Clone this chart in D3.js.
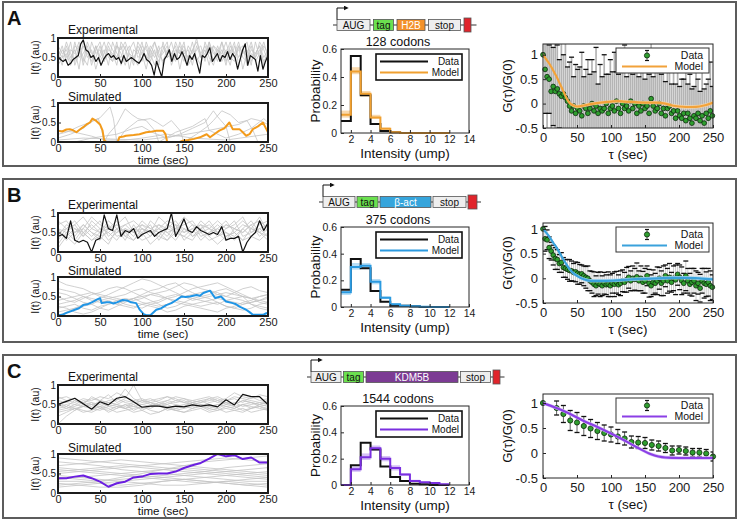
<!DOCTYPE html>
<meta charset="utf-8">
<title>Translation traces, intensity histograms and autocorrelations</title>
<style>
    body { margin: 0; background: #fff; }
    svg { font-family: "Liberation Sans", Arial, Helvetica, sans-serif; }
    .frame { fill: none; stroke: #5c5c5c; stroke-width: 2px; }
    .box { fill: none; stroke: #262626; stroke-width: 1px; }
    .box.thick { stroke: #1c1c1c; stroke-width: 2px; }
    .gray { fill: none; stroke: #c4c4c4; stroke-width: 0.8px; }
</style>
<body>
<svg id="fig" width="740" height="522"></svg>
<script src="https://d3js.org/d3.v7.min.js"></script>
<script>
// ---------- ticks ----------
const timeTicks = [0, 50, 100, 150, 200, 250];
const traceTicksY = [0, 0.5, 1];
const probTicks = [0, 0.2, 0.4, 0.6];
const intensityTicks = [2, 4, 6, 8, 10, 12, 14];
const acfTicksY = [-0.5, 0, 0.5, 1];
const binEdges = [1, 2, 3, 4, 5, 6, 7, 8, 9, 10, 11, 12];

// ---------- panel A (H2B) ----------
const expMainA = [0.5,0.45,0.4,0.45,0.3,0.35,0.45,0.5,0.55,0.85,
    0.95,0.7,0.65,0.5,0.55,0.4,0.5,0.3,0.45,0.55,
    0.6,0.5,0.55,0.45,0.5,0.35,0.55,0.4,0.45,0.5,
    0.45,0.4,0.35,0.45,0.6,0.45,0.4,0.3,0.05,0.4,
    0.2,0.0,0.45,0.55,0.7,0.4,0.6,0.45,0.5,0.65,
    0.5,0.3,0.55,0.45,0.6,0.35,0.1,0.55,0.5,0.6,
    0.75,0.4,0.5,0.6,0.4,0.55,0.5,0.65,0.45,0.6,
    0.5,0.2,0.45,0.7,0.85,0.3,0.55,0.5,0.45,0.15,
    0.55,0.2,0.4,0.55];
const expGrayA = [
    [0.6,0.3,0.8,0.5,0.7,0.2,0.9,0.6,0.4,0.8,0.5,0.7,0.3,0.9,0.6,0.5,0.8,0.2,0.7,0.6,0.9,0.4,0.7,0.5,0.8,0.3,0.6,0.9,0.5,0.7,0.4,0.8,0.6,1.0,0.5,0.7,0.3,0.8,0.6,0.9,0.4,0.7,0.5,0.8,0.2,0.6,0.9,0.5,0.7,0.4,0.6],
    [0.4,0.7,0.5,0.9,0.3,0.6,0.8,0.5,0.7,0.2,0.6,0.9,0.5,0.4,0.8,0.6,0.3,0.7,0.9,0.5,0.6,0.8,0.4,0.7,0.3,0.9,0.5,0.6,0.8,0.2,0.7,0.5,0.9,0.4,0.6,0.8,0.5,0.3,0.7,0.6,0.9,0.5,0.4,0.8,0.6,0.7,0.3,0.9,0.5,0.8,0.6],
    [0.7,0.5,0.6,0.3,0.8,0.7,0.4,0.9,0.6,0.5,0.8,0.4,0.7,0.6,0.3,0.9,0.7,0.5,0.4,0.8,0.6,0.2,0.7,0.9,0.5,0.6,0.8,0.4,0.7,0.6,0.9,0.3,0.5,0.7,0.8,0.4,0.9,0.6,0.5,0.7,0.3,0.8,0.6,0.9,0.5,0.4,0.7,0.6,0.8,0.3,0.7],
    [0.3,0.5,0.9,0.6,0.4,0.8,0.5,0.3,0.9,0.6,0.7,0.4,0.8,0.5,0.9,0.3,0.6,0.8,0.5,0.7,0.4,0.9,0.6,0.3,0.7,0.8,0.5,0.6,0.4,0.9,0.6,0.7,0.3,0.8,0.5,0.6,0.9,0.4,0.8,0.5,0.7,0.6,0.9,0.3,0.7,0.5,0.8,0.4,0.6,0.9,0.5],
    [0.5,0.8,0.4,0.7,0.6,0.9,0.3,0.7,0.5,0.8,0.4,0.6,0.9,0.7,0.5,0.8,0.4,0.6,0.3,0.9,0.7,0.5,0.8,0.6,0.4,0.7,0.9,0.3,0.6,0.8,0.5,0.4,0.7,0.9,0.6,0.5,0.8,0.7,0.4,0.9,0.6,0.3,0.8,0.5,0.7,0.9,0.4,0.6,0.8,0.5,0.7],
    [0.8,0.6,0.7,0.4,0.9,0.5,0.6,0.8,0.3,0.7,0.9,0.5,0.6,0.4,0.8,0.7,0.9,0.6,0.5,0.3,0.8,0.7,0.5,0.9,0.6,0.4,0.7,0.5,0.9,0.6,0.8,0.4,0.7,0.5,0.3,0.9,0.6,0.8,0.7,0.4,0.6,0.9,0.5,0.7,0.8,0.3,0.6,0.5,0.9,0.7,0.4]
];
const simMainA = [[0,0.29],[5,0.27],[10,0.32],[14,0.33],[18,0.3],[22,0.25],[26,0.32],[30,0.38],[34,0.45],[38,0.5],[41,0.6],[45,0.55],[50,0.45],[53,0.3],[55,0.04],[58,0],[71,0],[73,0.12],[78,0.14],[81,0.16],[90,0.18],[97,0.2],[100,0.22],[105,0.25],[110,0.26],[117,0.29],[125,0.29],[128,0.2],[130,0],[145,0],[148,0.03],[155,0.05],[162,0.08],[169,0.12],[175,0.18],[177,0.2],[181,0.12],[186,0.2],[192,0.29],[198,0.35],[204,0.5],[208,0.33],[216,0.33],[220,0.25],[224,0.16],[228,0.2],[232,0.33],[238,0.4],[244,0.5],[248,0.33],[250,0.25]];
const simGrayA = [
    [[0,0.1],[15,0.2],[30,0.35],[42,0.55],[48,0.6],[52,0.3],[55,0]],
    [[0,0.2],[10,0.25],[25,0.4],[38,0.5],[50,0.62],[62,0.9],[66,0.6],[70,0]],
    [[55,0],[60,0.2],[70,0.45],[80,0.85],[88,0.7],[95,0.6],[105,0.55],[115,0.3],[120,0]],
    [[70,0],[80,0.3],[95,0.55],[110,0.6],[118,0.5],[125,0.4],[135,0.55],[145,0.3],[150,0]],
    [[20,0],[40,0.1],[70,0.2],[90,0.35],[100,0.4],[112,0.25],[130,0.1],[145,0.2],[160,0.35],[175,0.5],[185,0.8],[190,0.65],[200,0.4],[205,0]],
    [[150,0],[165,0.2],[178,0.4],[185,0.55],[195,0.8],[205,0.7],[215,0.5],[225,0.55],[232,0.3],[238,0]],
    [[0,0.05],[30,0.1],[100,0.05],[140,0.15],[180,0.3],[215,0.45],[230,0.6],[240,0.55],[250,0.45]],
    [[120,0],[140,0.25],[160,0.4],[175,0.6],[180,0.3],[200,0.1],[215,0.2],[230,0.35],[245,0.6],[250,0.5]],
    [[0,0.3],[20,0.25],[40,0.15],[55,0.05],[80,0.05],[100,0.1],[130,0.2],[160,0.1],[200,0.05],[250,0.2]]
];
const histDataA = [0.085,0.55,0.27,0.065,0.015,0.005,0,0,0,0,0];
const histModelA = [0.13,0.44,0.28,0.11,0.03,0.005,0,0,0,0,0];
const histModelLoA = [0.11,0.42,0.26,0.1,0.025,0.003,0,0,0,0,0];
const histModelHiA = [0.16,0.47,0.3,0.13,0.04,0.008,0,0,0,0,0];
const acfMeanA = [1.0,0.7,0.55,0.5,0.25,0.35,0.25,0.3,0.2,0.15,
    0.2,0.12,0.05,-0.05,-0.15,-0.05,-0.2,-0.1,-0.15,-0.25,
    -0.05,-0.1,-0.2,-0.1,0.0,-0.15,-0.05,-0.2,-0.1,-0.15,
    -0.1,0.0,-0.2,-0.1,-0.05,-0.15,0.05,-0.1,-0.2,0.0,
    -0.1,-0.05,-0.15,0.05,-0.1,0.0,-0.2,-0.05,-0.15,0.0,
    -0.1,-0.05,-0.2,0.1,-0.05,-0.15,-0.1,0.0,-0.2,-0.1,
    -0.25,-0.1,-0.05,-0.2,-0.15,-0.3,-0.15,-0.25,-0.3,-0.2,
    -0.35,-0.2,-0.3,-0.4,-0.25,-0.3,-0.2,-0.35,-0.25,-0.4,
    -0.2,-0.3,-0.15,-0.25];
const acfErrA = [0.0,0.9,1.1,0.7,1.0,0.8,1.3,0.9,0.7,1.1,
    0.8,1.2,0.7,0.9,1.1,0.6,1.0,0.8,0.9,1.3,
    0.6,0.8,1.1,0.7,0.9,0.8,1.2,0.6,0.9,0.7,
    1.1,0.6,0.8,1.0,0.7,1.2,0.6,0.7,1.0,0.8,
    1.3,0.6,0.8,0.9,0.7,0.8,1.1,0.6,1.0,0.7,
    0.6,1.0,0.8,1.2,0.6,0.8,1.0,0.7,0.8,1.1,
    0.7,0.8,1.0,0.6,0.9,0.7,1.1,0.6,0.8,0.7,
    1.0,0.6,0.9,0.7,0.6,1.0,0.7,0.6,0.9,0.7,
    0.6,0.8,1.0,0.6];
const acfModelTauA = [0,5,10,15,20,25,30,35,40,45,50,60,70,85,100,110,120,135,150,165,180,190,200,210,220,230,240,250];
const acfModelA = [1.0,0.9,0.8,0.68,0.55,0.4,0.25,0.1,0.0,-0.04,-0.06,-0.04,-0.01,0.02,0.04,0.05,0.04,0.03,0.02,0.02,0.0,-0.04,-0.06,-0.07,-0.07,-0.06,-0.03,0.02];

// ---------- panel B (beta-actin) ----------
const expMainB = [0.4,0.45,0.35,0.8,0.3,0.25,0.3,0.25,0.0,0.3,0.35,0.95,0.6,0.55,0.95,0.4,0.55,0.5,0.6,0.35,0.45,0.5,0.55,0.4,0.5,0.55,0.6,1.0,0.4,0.6,0.85,0.55,0.5,0.65,0.55,0.5,0.45,0.5,0.45,0.65,0.3,0.35,0.35,0.4,0.0,0.25,0.4,0.5,0.8,0.55,0.75];
const expGrayB = [
    [0.6,0.5,0.7,0.4,0.8,0.6,0.5,0.7,0.9,0.5,0.6,0.4,0.7,0.6,0.8,0.5,0.6,0.7,0.4,0.6,0.8,0.5,0.7,0.6,0.9,0.5],
    [0.3,0.6,0.4,0.7,0.5,0.3,0.6,0.8,0.4,0.6,0.5,0.7,0.3,0.6,0.5,0.8,0.4,0.6,0.7,0.5,0.3,0.6,0.5,0.7,0.4,0.6],
    [0.7,0.8,0.5,0.6,0.9,0.7,0.6,0.5,0.7,0.8,0.6,0.5,0.9,0.7,0.6,0.7,0.8,0.5,0.6,0.8,0.6,0.7,0.9,0.5,0.7,0.8],
    [0.5,0.4,0.6,0.5,0.3,0.5,0.7,0.4,0.5,0.3,0.6,0.5,0.4,0.7,0.5,0.4,0.6,0.3,0.5,0.6,0.4,0.5,0.3,0.6,0.5,0.4],
    [0.2,0.5,0.3,0.6,0.4,0.6,0.3,0.5,0.6,0.4,0.7,0.6,0.5,0.3,0.6,0.5,0.7,0.4,0.5,0.7,0.5,0.4,0.6,0.8,0.5,0.3],
    [0.8,0.6,0.7,0.9,0.6,0.5,0.8,0.6,0.7,0.5,0.8,0.6,0.7,0.5,0.6,0.9,0.7,0.6,0.8,0.5,0.7,0.6,0.5,0.7,0.8,0.6],
    [0.4,0.7,0.6,0.4,0.6,0.8,0.4,0.6,0.3,0.7,0.4,0.8,0.6,0.4,0.7,0.3,0.5,0.8,0.6,0.4,0.6,0.8,0.4,0.5,0.6,0.7],
    [0.6,0.3,0.5,0.7,0.5,0.4,0.5,0.3,0.6,0.5,0.3,0.4,0.6,0.5,0.3,0.6,0.4,0.5,0.3,0.4,0.5,0.3,0.6,0.4,0.3,0.5],
    [0.5,0.6,0.8,0.5,0.7,0.5,0.6,0.7,0.5,0.6,0.7,0.5,0.6,0.8,0.7,0.6,0.5,0.7,0.6,0.5,0.7,0.6,0.8,0.6,0.5,0.7],
    [0.1,0.4,0.2,0.5,0.3,0.4,0.2,0.6,0.4,0.3,0.5,0.2,0.4,0.3,0.5,0.4,0.3,0.6,0.4,0.2,0.4,0.5,0.3,0.4,0.6,0.4]
];
const simMainB = [[0,0.02],[5,0.03],[10,0.08],[15,0.12],[20,0.16],[25,0.2],[30,0.28],[35,0.3],[42,0.37],[46,0.42],[50,0.46],[52,0.33],[58,0.35],[62,0.35],[66,0.32],[70,0.35],[77,0.41],[82,0.4],[87,0.35],[93,0.33],[97,0.17],[102,0.05],[105,0.02],[110,0.02],[117,0.16],[123,0.2],[129,0.28],[135,0.33],[141,0.41],[147,0.5],[152,0.49],[157,0.5],[165,0.54],[169,0.52],[173,0.59],[181,0.65],[187,0.46],[194,0.5],[200,0.37],[208,0.33],[212,0.3],[216,0.24],[220,0.2],[224,0.16],[228,0.1],[232,0.03],[244,0.03],[248,0.07],[250,0.08]];
const simGrayB = [
    [0.9,0.8,0.75,0.7,0.6,0.55,0.5,0.45,0.4,0.35,0.3,0.25,0.2,0.1,0.15,0.25,0.3,0.35,0.4,0.45,0.4,0.35,0.3,0.35,0.4,0.45],
    [0.0,0.1,0.2,0.3,0.35,0.45,0.55,0.65,0.75,0.85,0.95,0.9,0.8,0.7,0.6,0.5,0.4,0.45,0.5,0.55,0.6,0.55,0.5,0.45,0.35,0.3],
    [0.4,0.45,0.5,0.55,0.6,0.5,0.45,0.4,0.3,0.25,0.2,0.3,0.35,0.45,0.5,0.6,0.7,0.75,0.8,0.85,0.75,0.65,0.55,0.45,0.4,0.35],
    [0.2,0.25,0.3,0.2,0.15,0.25,0.3,0.35,0.4,0.45,0.5,0.55,0.5,0.45,0.4,0.35,0.3,0.25,0.3,0.35,0.25,0.2,0.3,0.35,0.4,0.5],
    [0.6,0.55,0.45,0.35,0.3,0.2,0.15,0.25,0.35,0.45,0.55,0.65,0.7,0.8,0.85,0.7,0.6,0.5,0.45,0.35,0.25,0.2,0.15,0.2,0.3,0.35],
    [0.1,0.15,0.2,0.25,0.3,0.4,0.45,0.5,0.55,0.65,0.7,0.6,0.55,0.45,0.35,0.3,0.25,0.2,0.15,0.1,0.2,0.25,0.35,0.4,0.5,0.55],
    [0.3,0.35,0.4,0.5,0.45,0.4,0.35,0.3,0.4,0.45,0.35,0.3,0.25,0.3,0.4,0.5,0.55,0.6,0.65,0.55,0.5,0.6,0.7,0.75,0.65,0.6],
    [0.5,0.4,0.35,0.45,0.55,0.6,0.7,0.75,0.7,0.6,0.5,0.4,0.3,0.2,0.25,0.35,0.45,0.4,0.35,0.3,0.4,0.45,0.5,0.3,0.2,0.15],
    [0.25,0.2,0.1,0.05,0.1,0.2,0.3,0.4,0.45,0.4,0.45,0.55,0.6,0.65,0.75,0.85,0.8,0.7,0.65,0.6,0.5,0.45,0.4,0.3,0.25,0.2],
    [0.7,0.65,0.6,0.5,0.4,0.35,0.4,0.3,0.25,0.2,0.3,0.35,0.4,0.5,0.55,0.5,0.45,0.5,0.55,0.65,0.7,0.6,0.5,0.45,0.5,0.55]
];
const histDataB = [0.13,0.36,0.29,0.12,0.04,0.01,0.01,0.005,0,0,0];
const histModelB = [0.11,0.3,0.31,0.19,0.07,0.02,0.01,0.005,0.002,0,0];
const histModelLoB = [0.09,0.28,0.29,0.17,0.06,0.015,0.005,0.002,0,0,0];
const histModelHiB = [0.12,0.33,0.33,0.21,0.08,0.03,0.015,0.008,0.004,0.002,0];
const acfMeanB = [1.0,0.8,0.78,0.62,0.55,0.47,0.4,0.38,0.3,0.32,
    0.22,0.2,0.18,0.16,0.15,0.12,0.13,0.1,0.08,0.09,
    0.05,0.02,0.0,-0.05,-0.08,-0.12,-0.15,-0.1,-0.12,-0.15,
    -0.1,-0.13,-0.12,-0.15,-0.1,-0.12,-0.08,-0.13,-0.1,-0.05,
    -0.08,-0.03,0.02,-0.05,0.0,-0.02,0.03,-0.05,0.0,-0.08,
    -0.05,0.05,-0.1,-0.15,-0.08,-0.1,-0.05,0.0,-0.1,-0.05,
    0.05,-0.05,0.02,-0.08,0.0,-0.03,0.08,0.02,-0.05,-0.1,
    0.05,-0.05,-0.12,-0.08,-0.05,-0.15,-0.1,-0.2,-0.05,-0.1,
    -0.12,-0.08,-0.15,-0.18];
const acfErrB = [0.0,0.25,0.2,0.22,0.18,0.2,0.22,0.2,0.18,0.2,
    0.2,0.18,0.2,0.22,0.2,0.18,0.2,0.22,0.2,0.18,
    0.2,0.22,0.25,0.2,0.22,0.25,0.2,0.22,0.25,0.2,
    0.22,0.2,0.25,0.22,0.2,0.25,0.22,0.2,0.25,0.22,
    0.2,0.25,0.22,0.2,0.25,0.22,0.28,0.2,0.25,0.22,
    0.25,0.2,0.28,0.22,0.25,0.2,0.28,0.22,0.25,0.3,
    0.22,0.25,0.28,0.2,0.25,0.3,0.22,0.25,0.28,0.2,
    0.3,0.25,0.22,0.28,0.25,0.3,0.22,0.28,0.25,0.3,
    0.25,0.28,0.3,0.25];
const acfModelTauB = [0,5,10,15,20,25,30,35,40,45,50,60,70,90,110,130,150,170,190,210,230,250];
const acfModelB = [1.0,0.92,0.83,0.72,0.62,0.5,0.38,0.27,0.17,0.1,0.05,-0.02,-0.05,-0.05,-0.04,-0.02,-0.01,0.0,0.01,0.01,0.0,-0.02];

// ---------- panel C (KDM5B) ----------
const expMainC = [0.5,0.58,0.66,0.52,0.38,0.57,0.49,0.66,0.7,0.57,0.43,0.46,0.46,0.42,0.46,0.44,0.49,0.46,0.49,0.44,0.62,0.49,0.76,0.7,0.7,0.5];
const expGrayC = [
    [0.6,0.55,0.5,0.6,0.55,0.5,0.6,0.65,0.55,0.5,0.6,0.55,0.5,0.6,0.55,0.6,0.5,0.55,0.6,0.65,0.55,0.5,0.6,0.55,0.5,0.6],
    [0.4,0.45,0.35,0.5,0.4,0.45,0.3,0.4,0.5,0.35,0.45,0.4,0.5,0.45,0.35,0.4,0.45,0.5,0.4,0.35,0.45,0.4,0.5,0.45,0.4,0.35],
    [0.7,0.6,0.65,0.5,0.7,0.6,0.75,0.55,0.65,1.0,0.6,0.65,0.55,0.6,0.7,0.65,0.6,0.55,0.65,0.7,0.6,0.65,0.55,0.7,0.6,0.65],
    [0.3,0.35,0.4,0.3,0.35,0.45,0.4,0.3,0.35,0.4,0.45,0.35,0.3,0.4,0.35,0.3,0.4,0.45,0.35,0.4,0.3,0.35,0.4,0.3,0.35,0.4],
    [0.0,0.2,0.35,0.45,0.5,0.55,0.45,0.5,0.6,0.55,0.5,0.45,0.55,0.5,0.6,0.55,0.5,0.45,0.55,0.6,0.5,0.55,0.45,0.5,0.55,0.5],
    [0.5,0.6,0.55,0.65,0.6,0.7,0.65,0.8,0.7,0.6,0.65,0.55,0.6,0.7,0.65,0.55,0.6,0.65,0.7,0.6,0.65,0.8,0.7,0.65,0.75,0.7],
    [0.45,0.5,0.4,0.45,0.55,0.4,0.5,0.45,0.4,0.5,0.35,0.45,0.5,0.4,0.45,0.5,0.55,0.45,0.4,0.5,0.45,0.4,0.5,0.55,0.45,0.4],
    [0.55,0.45,0.6,0.5,0.45,0.6,0.55,0.5,0.45,0.55,0.6,0.5,0.45,0.55,0.5,0.45,0.55,0.6,0.5,0.45,0.55,0.5,0.6,0.55,0.5,0.45],
    [0.2,0.3,0.4,0.35,0.3,0.4,0.35,0.45,0.4,0.3,0.35,0.25,0.3,0.4,0.35,0.3,0.35,0.4,0.3,0.35,0.4,0.35,0.3,0.4,0.45,0.35],
    [0.65,0.7,0.6,0.55,0.65,0.6,0.55,0.6,0.9,0.65,0.55,0.6,0.65,0.7,0.6,0.65,0.55,0.6,0.65,0.55,0.6,0.7,0.65,0.6,0.55,0.6],
    [0.5,0.4,0.45,0.55,0.5,0.45,0.55,0.5,0.4,0.45,0.5,0.55,0.45,0.5,0.4,0.45,0.55,0.5,0.45,0.5,0.55,0.45,0.5,0.4,0.45,0.5],
    [0.35,0.4,0.5,0.45,0.4,0.35,0.45,0.4,0.5,0.45,0.4,0.45,0.5,0.35,0.4,0.45,0.4,0.5,0.45,0.4,0.5,0.45,0.35,0.4,0.5,0.55]
];
const simMainC = [0.38,0.38,0.42,0.45,0.38,0.29,0.16,0.25,0.29,0.4,0.42,0.49,0.5,0.5,0.55,0.64,0.71,0.77,0.88,1.0,0.94,0.97,0.87,0.91,0.78,0.78];
const simGrayC = [
    [0.9,0.85,0.8,0.75,0.7,0.65,0.6,0.55,0.5,0.45,0.4],
    [0.2,0.25,0.3,0.4,0.5,0.6,0.7,0.8,0.85,0.9,0.95],
    [0.5,0.55,0.5,0.45,0.4,0.35,0.3,0.25,0.3,0.35,0.4],
    [0.7,0.75,0.8,0.85,0.8,0.75,0.7,0.65,0.6,0.55,0.5],
    [0.3,0.3,0.25,0.2,0.25,0.3,0.35,0.4,0.45,0.5,0.55],
    [0.6,0.55,0.6,0.65,0.7,0.75,0.8,0.85,0.9,0.85,0.8],
    [0.15,0.2,0.25,0.3,0.35,0.4,0.45,0.5,0.55,0.6,0.65],
    [0.45,0.4,0.35,0.3,0.25,0.2,0.2,0.25,0.3,0.25,0.2],
    [0.8,0.75,0.7,0.6,0.55,0.5,0.45,0.4,0.35,0.3,0.3],
    [0.35,0.4,0.45,0.5,0.55,0.6,0.65,0.6,0.55,0.5,0.45],
    [0.25,0.2,0.15,0.15,0.2,0.3,0.35,0.3,0.25,0.2,0.15],
    [0.55,0.6,0.65,0.7,0.65,0.6,0.55,0.5,0.45,0.4,0.35],
    [0.4,0.35,0.3,0.35,0.4,0.45,0.5,0.55,0.65,0.7,0.75],
    [0.65,0.6,0.55,0.5,0.45,0.4,0.35,0.3,0.25,0.2,0.25]
];
const histDataC = [0,0.15,0.32,0.27,0.14,0.06,0.03,0.01,0.005,0,0];
const histModelC = [0,0.12,0.21,0.28,0.2,0.13,0.08,0.03,0.02,0.015,0.005];
const histModelLoC = [0,0.1,0.19,0.26,0.18,0.11,0.07,0.025,0.015,0.01,0.002];
const histModelHiC = [0,0.14,0.24,0.3,0.22,0.15,0.09,0.04,0.025,0.02,0.008];
const acfTauC = [0,20,30,40,50,60,70,80,90,100,110,120,130,140,150,160,170,180,190,200,210,220,230,240,250];
const acfMeanC = [1.0,0.9,0.78,0.65,0.61,0.54,0.49,0.44,0.4,0.37,0.33,0.29,0.22,0.21,0.2,0.16,0.14,0.1,0.05,0.06,0.04,0.01,0.01,-0.01,-0.07];
const acfErrC = [0,0.14,0.17,0.2,0.2,0.19,0.18,0.17,0.16,0.15,0.14,0.13,0.12,0.12,0.11,0.1,0.1,0.09,0.09,0.08,0.08,0.08,0.08,0.08,0.09];
const acfModelTauC = [0,20,40,60,80,100,120,140,160,170,180,200,250];
const acfModelC = [1.0,0.9,0.78,0.64,0.52,0.39,0.25,0.1,-0.03,-0.07,-0.09,-0.1,-0.1];

const geneLabelsA = ["AUG", "tag", "H2B", "stop", ""];
const geneLabelsB = ["AUG", "tag", "\u03b2-act", "stop", ""];
const geneLabelsC = ["AUG", "tag", "KDM5B", "stop", ""];
const acfTauAB = d3.range(0, 250, 3);

// ---------- layout / styles per panel ----------
const panels = [
    {
        letter: "A", top: 2, h: 164, exp: 38, sim: 103, hist: [49, 133], acf: [44, 128], acfMax: 1.22,
        geneY: 25, geneX: 337, gap: 3.5, geneW: [33, 20, 28, 32, 7], geneLabels: geneLabelsA, codons: "128 codons",
        geneFill: ["#eeeeee", "#6be04f", "#f39129", "#eeeeee", "#e0242b"], geneText: ["#111", "#111", "#fff", "#111", "#fff"],
        expMain: expMainA, expGray: expGrayA, simMain: simMainA, simGray: simGrayA, simColor: "#f39b1b",
        hData: histDataA, hModel: histModelA, hLo: histModelLoA, hHi: histModelHiA, hColor: "#f0a030", hBand: "#f7cf98",
        tau: acfTauAB, mean: acfMeanA, err: acfErrA, mTau: acfModelTauA, mVal: acfModelA,
        aColor: "#f2a23a", aBand: "#f8d6a6", errColor: "#b4b4b4", errW: 1.7, r: 2.4
    },
    {
        letter: "B", top: 179, h: 163, exp: 213, sim: 277, hist: [227, 307], acf: [223, 303], acfMax: 1.12,
        geneY: 202, geneX: 323, gap: 2, geneW: [32, 21, 51, 33, 9], geneLabels: geneLabelsB, codons: "375 codons",
        geneFill: ["#eeeeee", "#6be04f", "#36a5dc", "#eeeeee", "#e0242b"], geneText: ["#111", "#111", "#fff", "#111", "#fff"],
        expMain: expMainB, expGray: expGrayB, simMain: simMainB, simGray: simGrayB, simColor: "#1f95e6",
        hData: histDataB, hModel: histModelB, hLo: histModelLoB, hHi: histModelHiB, hColor: "#2b9ae0", hBand: "#a6d6f4",
        tau: acfTauAB, mean: acfMeanB, err: acfErrB, mTau: acfModelTauB, mVal: acfModelB,
        aColor: "#3aa2dc", aBand: "#b0daf2", errColor: "#bdbdbd", errW: 0.8, r: 2.4
    },
    {
        letter: "C", top: 355, h: 163, exp: 385, sim: 454, hist: [406, 485], acf: [394, 478], acfMax: 1.18,
        geneY: 377, geneX: 311, gap: 2.5, geneW: [30, 20, 92, 30, 7], geneLabels: geneLabelsC, codons: "1544 codons",
        geneFill: ["#eeeeee", "#6be04f", "#7c3b94", "#eeeeee", "#e0242b"], geneText: ["#111", "#111", "#fff", "#111", "#fff"],
        expMain: expMainC, expGray: expGrayC, simMain: simMainC, simGray: simGrayC, simColor: "#6b1fe0",
        hData: histDataC, hModel: histModelC, hLo: histModelLoC, hHi: histModelHiC, hColor: "#7a2fe0", hBand: "#cbb0f4",
        tau: acfTauC, mean: acfMeanC, err: acfErrC, mTau: acfModelTauC, mVal: acfModelC,
        aColor: "#8b3fe6", aBand: "#d2b8f4", errColor: "#3a3a3a", errW: 0.8, r: 2.6
    }
];

const svg = d3.select("#fig");
const defs = svg.append("defs");
defs.append("marker").attr("id", "arrow").attr("viewBox", "0 0 6 6")
    .attr("refX", 4).attr("refY", 3).attr("markerWidth", 5).attr("markerHeight", 5)
    .attr("orient", "auto")
    .append("path").attr("d", "M0,0L6,3L0,6Z").attr("fill", "#111");

const fmt = d => String(d);

// evenly sampled arrays become [t, v] pairs over 0..250
function pts(tr) {
    if (Array.isArray(tr[0])) return tr;
    return tr.map((v, i) => [i * 250 / (tr.length - 1), v]);
}

function styleAxis(sel, size) {
    sel.attr("font-family", null).attr("font-size", null);
    sel.select(".domain").remove();
    sel.selectAll(".tick line").attr("stroke", "#262626");
    sel.selectAll(".tick text").attr("font-size", size).attr("fill", "#1a1a1a");
}

function yLabel(g, text, x, cy, size) {
    g.append("text").attr("transform", `translate(${x},${cy}) rotate(-90)`)
        .attr("text-anchor", "middle").attr("dy", "0.35em")
        .attr("font-size", size).attr("fill", "#111").text(text);
}

function tracePlot(g, id, top, grays, main, color, lw, title, withX) {
    const L = 58, R = 268, h = 39;
    const x = d3.scaleLinear().domain([0, 250]).range([L, R]);
    const y = d3.scaleLinear().domain([0, 1]).range([top + h, top]);
    defs.append("clipPath").attr("id", id).append("rect")
        .attr("x", L).attr("y", top).attr("width", R - L).attr("height", h);
    const line = d3.line().x(d => x(d[0])).y(d => y(d[1]));
    const pg = g.append("g").attr("clip-path", `url(#${id})`);
    pg.selectAll("path.gray").data(grays).join("path")
        .attr("class", "gray").attr("d", d => line(pts(d)));
    pg.append("path").attr("d", line(pts(main)))
        .attr("fill", "none").attr("stroke", color).attr("stroke-width", lw)
        .attr("stroke-linejoin", "round");

    g.append("g").attr("transform", `translate(0,${top + h})`)
        .call(d3.axisBottom(x).tickValues(timeTicks).tickFormat(fmt).tickSizeInner(-3).tickSizeOuter(0).tickPadding(2))
        .call(s => styleAxis(s, 11));
    g.append("g").attr("transform", `translate(${L},0)`)
        .call(d3.axisLeft(y).tickValues(traceTicksY).tickFormat(fmt).tickSizeInner(-3).tickSizeOuter(0).tickPadding(2))
        .call(s => styleAxis(s, 10));
    g.append("rect").attr("class", "box thick").attr("x", L).attr("y", top).attr("width", R - L).attr("height", h);

    g.append("text").attr("x", 68).attr("y", top - (withX ? 2.5 : 4)).attr("font-size", 12).attr("fill", "#111").text(title);
    yLabel(g, "I(t) (au)", 35, top + h / 2, 10.5);
    if (withX) {
        g.append("text").attr("x", (L + R) / 2).attr("y", top + h + 22).attr("text-anchor", "middle")
            .attr("font-size", 11.5).attr("fill", "#111").text("time (sec)");
    }
}

function histPlot(g, P) {
    const [top, bot] = P.hist;
    const x = d3.scaleLinear().domain([1, 14]).range([341, 469]);
    const y = d3.scaleLinear().domain([0, 0.6]).range([bot, top]);
    const stairs = vals => {
        const p = vals.map((v, i) => [binEdges[i], v]);
        p.push([binEdges[vals.length], vals[vals.length - 1]]);
        return d3.line().curve(d3.curveStepAfter).x(d => x(d[0])).y(d => y(d[1]))(p);
    };
    // model uncertainty band
    g.append("g").selectAll("rect").data(P.hModel).join("rect")
        .attr("x", (d, i) => x(binEdges[i])).attr("width", (d, i) => x(binEdges[i + 1]) - x(binEdges[i]))
        .attr("y", (d, i) => y(P.hHi[i])).attr("height", (d, i) => Math.max(0.6, y(P.hLo[i]) - y(P.hHi[i])))
        .attr("fill", P.hBand).attr("opacity", 0.8);
    g.append("path").attr("d", stairs(P.hData)).attr("fill", "none").attr("stroke", "#111").attr("stroke-width", 2);
    g.append("path").attr("d", stairs(P.hModel)).attr("fill", "none").attr("stroke", P.hColor).attr("stroke-width", 2);

    g.append("g").attr("transform", `translate(0,${bot})`)
        .call(d3.axisBottom(x).tickValues(intensityTicks).tickFormat(fmt).tickSizeInner(-3).tickSizeOuter(0).tickPadding(3))
        .call(s => styleAxis(s, 10.5));
    g.append("g").attr("transform", "translate(341,0)")
        .call(d3.axisLeft(y).tickValues(probTicks).tickFormat(fmt).tickSizeInner(-3).tickSizeOuter(0).tickPadding(4))
        .call(s => styleAxis(s, 10.5));
    g.append("rect").attr("class", "box").attr("x", 341).attr("y", top).attr("width", 128).attr("height", bot - top);

    g.append("text").attr("x", 405).attr("y", bot + 25).attr("text-anchor", "middle")
        .attr("font-size", 13.5).attr("fill", "#111").text("Intensity (ump)");
    yLabel(g, "Probability", 315, (top + bot) / 2, 13.5);
    g.append("text").attr("x", 398).attr("y", top - 3).attr("text-anchor", "middle")
        .attr("font-size", 12.5).attr("fill", "#111").text(P.codons);

    // legend
    const ly = top + 5;
    g.append("rect").attr("x", 376).attr("y", ly).attr("width", 86).attr("height", 26)
        .attr("fill", "#fff").attr("stroke", "#111").attr("stroke-width", 1.6);
    [["Data", "#111"], ["Model", P.hColor]].forEach(([lab, c], i) => {
        const yy = ly + 7.5 + i * 11;
        g.append("line").attr("x1", 380).attr("x2", 428).attr("y1", yy).attr("y2", yy)
            .attr("stroke", c).attr("stroke-width", 2);
        g.append("text").attr("x", 459).attr("y", yy).attr("dy", "0.35em").attr("text-anchor", "end")
            .attr("font-size", 10).attr("fill", "#111").text(lab);
    });
}

function acfPlot(g, id, P) {
    const [top, bot] = P.acf;
    const L = 543, R = 713;
    const x = d3.scaleLinear().domain([0, 250]).range([L, R]);
    const y = d3.scaleLinear().domain([-0.5, P.acfMax]).range([bot, top]);
    defs.append("clipPath").attr("id", id).append("rect")
        .attr("x", L).attr("y", top).attr("width", R - L).attr("height", bot - top);
    const pts3 = P.tau.map((t, i) => ({ t, m: P.mean[i], e: P.err[i] }));
    const cg = g.append("g").attr("clip-path", `url(#${id})`);
    cg.selectAll("line.eb").data(pts3).join("line").attr("class", "eb")
        .attr("x1", d => x(d.t)).attr("x2", d => x(d.t))
        .attr("y1", d => y(d.m - d.e)).attr("y2", d => y(d.m + d.e))
        .attr("stroke", P.errColor).attr("stroke-width", P.errW);
    ["lo", "hi"].forEach(k => {
        cg.selectAll("line.cap" + k).data(pts3.filter(d => d.e > 0)).join("line").attr("class", "cap" + k)
            .attr("x1", d => x(d.t) - 2.5).attr("x2", d => x(d.t) + 2.5)
            .attr("y1", d => y(k === "lo" ? d.m - d.e : d.m + d.e))
            .attr("y2", d => y(k === "lo" ? d.m - d.e : d.m + d.e))
            .attr("stroke", "#111").attr("stroke-width", 1.3);
    });
    g.selectAll("circle.pt").data(pts3).join("circle").attr("class", "pt")
        .attr("cx", d => x(d.t)).attr("cy", d => y(d.m)).attr("r", P.r)
        .attr("fill", "#2f9e2f").attr("stroke", "#0d2a0d").attr("stroke-width", 0.8);

    const model = P.mTau.map((t, i) => [t, P.mVal[i]]);
    const mg = g.append("g").attr("clip-path", `url(#${id})`);
    mg.append("path").attr("d", d3.area().curve(d3.curveMonotoneX)
            .x(d => x(d[0])).y0(d => y(d[1] - 0.035)).y1(d => y(d[1] + 0.035))(model))
        .attr("fill", P.aBand).attr("opacity", 0.9);
    mg.append("path").attr("d", d3.line().curve(d3.curveMonotoneX).x(d => x(d[0])).y(d => y(d[1]))(model))
        .attr("fill", "none").attr("stroke", P.aColor).attr("stroke-width", 2.2);

    g.append("g").attr("transform", `translate(0,${bot})`)
        .call(d3.axisBottom(x).tickValues(timeTicks).tickFormat(fmt).tickSizeInner(-3).tickSizeOuter(0).tickPadding(5))
        .call(s => styleAxis(s, 13));
    g.append("g").attr("transform", `translate(${L},0)`)
        .call(d3.axisLeft(y).tickValues(acfTicksY).tickFormat(fmt).tickSizeInner(-3).tickSizeOuter(0).tickPadding(5))
        .call(s => styleAxis(s, 13));
    g.append("rect").attr("class", "box").attr("x", L).attr("y", top).attr("width", R - L).attr("height", bot - top);

    g.append("text").attr("x", (L + R) / 2).attr("y", bot + 31).attr("text-anchor", "middle")
        .attr("font-size", 13.5).attr("fill", "#111").text("\u03c4 (sec)");
    yLabel(g, "G(\u03c4)/G(0)", 507, (top + bot) / 2, 13);

    // legend
    const ly = top + 4;
    g.append("rect").attr("x", 616).attr("y", ly).attr("width", 93).attr("height", 25)
        .attr("fill", "#fff").attr("stroke", "#333").attr("stroke-width", 1);
    const dy = ly + 7.5, my = ly + 18.5;
    g.append("line").attr("x1", 647).attr("x2", 647).attr("y1", dy - 5).attr("y2", dy + 5).attr("stroke", "#555");
    [dy - 5, dy + 5].forEach(yy => g.append("line").attr("x1", 645).attr("x2", 649).attr("y1", yy).attr("y2", yy)
        .attr("stroke", "#111").attr("stroke-width", 1.2));
    g.append("circle").attr("cx", 647).attr("cy", dy).attr("r", 2.6)
        .attr("fill", "#2f9e2f").attr("stroke", "#0d2a0d").attr("stroke-width", 0.8);
    g.append("line").attr("x1", 622).attr("x2", 667).attr("y1", my).attr("y2", my)
        .attr("stroke", P.aColor).attr("stroke-width", 2.2);
    g.append("text").attr("x", 703).attr("y", dy).attr("dy", "0.35em").attr("text-anchor", "end")
        .attr("font-size", 10.5).attr("fill", "#111").text("Data");
    g.append("text").attr("x", 703).attr("y", my).attr("dy", "0.35em").attr("text-anchor", "end")
        .attr("font-size", 10.5).attr("fill", "#111").text("Model");
}

function geneDiagram(g, P) {
    const y0 = P.geneY;
    let xs = P.geneX;
    const boxes = P.geneW.map((w, i) => {
        const b = { x: xs, w, lab: P.geneLabels[i], fill: P.geneFill[i], txt: P.geneText[i], tall: i === P.geneW.length - 1 };
        xs += w + P.gap;
        return b;
    });
    g.append("line").attr("x1", P.geneX - 4).attr("x2", xs + 2).attr("y1", y0).attr("y2", y0)
        .attr("stroke", "#333").attr("stroke-width", 1.2);
    g.selectAll("rect.gene").data(boxes).join("rect").attr("class", "gene")
        .attr("x", d => d.x).attr("width", d => d.w)
        .attr("y", d => d.tall ? y0 - 7 : y0 - 5.5).attr("height", d => d.tall ? 14 : 11)
        .attr("fill", d => d.fill).attr("stroke", "#555").attr("stroke-width", 0.8);
    g.selectAll("text.gene").data(boxes).join("text").attr("class", "gene")
        .attr("x", d => d.x + d.w / 2).attr("y", y0).attr("dy", "0.36em").attr("text-anchor", "middle")
        .attr("font-size", 10).attr("fill", d => d.txt).text(d => d.lab);
    g.append("path").attr("d", `M${P.geneX},${y0 - 5.5}V${y0 - 17}H${P.geneX + 10}`)
        .attr("fill", "none").attr("stroke", "#111").attr("stroke-width", 1)
        .attr("marker-end", "url(#arrow)");
}

panels.forEach((P, k) => {
    const g = svg.append("g");
    g.append("rect").attr("class", "frame").attr("x", 3).attr("y", P.top).attr("width", 733).attr("height", P.h);
    g.append("text").attr("x", 7).attr("y", P.top + 23).attr("font-size", 20).attr("font-weight", "bold")
        .attr("fill", "#111").text(P.letter);
    tracePlot(g, "ce" + k, P.exp, P.expGray, P.expMain, "#111", 1.2, "Experimental", false);
    tracePlot(g, "cs" + k, P.sim, P.simGray, P.simMain, P.simColor, 2, "Simulated", true);
    histPlot(g, P);
    acfPlot(g, "ca" + k, P);
    geneDiagram(g, P);
});
</script>
</body>
